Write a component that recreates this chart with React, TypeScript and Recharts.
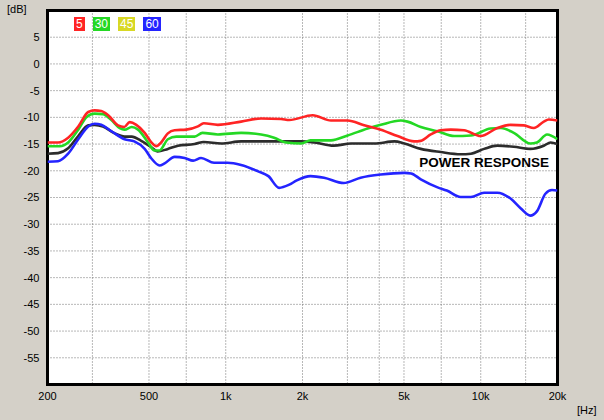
import React from 'react';
import {
  LineChart,
  Line,
  XAxis,
  YAxis,
  CartesianGrid,
  ReferenceArea,
  ReferenceDot,
  Legend,
} from 'recharts';

// angles (legend), the 45° curve is not drawn in the source
const angleLabels = ['5', '30', '45', '60'];
const angleColors = ['#ff2424', '#24d824', '#d8d824', '#2424ff'];

const xTicks = [200, 500, 1000, 2000, 5000, 10000, 20000];
const xGrid = [300, 400, 500, 600, 700, 800, 900, 1000, 2000, 3000, 4000, 5000, 6000, 7000, 8000, 9000, 10000, 15000];
const yTicks = [-55, -50, -45, -40, -35, -30, -25, -20, -15, -10, -5, 0, 5];

const redFreq = [200, 220, 241, 264, 289, 306, 325, 346, 378, 400, 420, 446, 481, 511, 534, 558, 593, 630, 700, 778, 820, 931, 1149, 1376, 1648, 1775, 2193, 2586, 3006, 3490, 4057, 4717, 5479, 5820, 6368, 6972, 7630, 8600, 9993, 11610, 13090, 14760, 16150, 17670, 18480, 20000];
const redDb = [-14.7, -14.7, -13.8, -11.7, -9.0, -8.7, -8.8, -9.6, -11.5, -11.8, -10.9, -11.4, -12.9, -14.7, -15.4, -14.7, -13.0, -12.4, -12.3, -11.7, -11.1, -11.4, -10.8, -10.2, -10.3, -10.5, -9.6, -10.6, -10.6, -11.5, -12.3, -13.5, -14.5, -14.4, -13.2, -12.4, -12.3, -12.4, -13.5, -12.0, -11.4, -11.5, -12.0, -10.8, -10.4, -10.6];

const greenFreq = [200, 224, 241, 264, 284, 306, 330, 356, 384, 401, 428, 453, 496, 525, 550, 593, 640, 755, 810, 931, 1149, 1376, 1548, 1722, 1980, 2150, 2586, 3006, 3600, 4057, 4860, 5160, 5820, 6770, 7870, 9150, 10940, 12000, 13480, 15650, 16600, 18200, 20000];
const greenDb = [-15.4, -15.4, -14.7, -12.3, -10.0, -9.3, -9.4, -10.5, -12.0, -12.3, -11.8, -12.3, -14.7, -16.2, -16.2, -14.1, -13.6, -13.6, -12.9, -13.2, -12.9, -13.2, -13.8, -14.7, -14.9, -14.3, -14.3, -13.4, -12.1, -11.4, -10.6, -10.8, -11.8, -12.6, -13.5, -13.4, -12.1, -12.0, -12.9, -14.9, -14.7, -13.2, -14.1];

const powerFreq = [200, 220, 241, 264, 289, 306, 330, 367, 401, 428, 466, 511, 540, 593, 650, 755, 820, 960, 1149, 1548, 1980, 2230, 2650, 3100, 3830, 4590, 5020, 5820, 6970, 8340, 9150, 10310, 11610, 13480, 15650, 17670, 18800, 20000];
const powerDb = [-16.8, -16.7, -15.8, -13.5, -11.5, -11.4, -11.7, -13.0, -13.6, -13.6, -14.4, -15.6, -16.4, -15.9, -15.3, -15.0, -14.6, -14.9, -14.5, -14.5, -14.5, -14.7, -15.3, -14.9, -14.9, -14.5, -14.9, -15.9, -16.5, -16.9, -16.8, -15.9, -15.3, -15.5, -15.9, -15.3, -14.7, -15.0];

const blueFreq = [200, 220, 241, 264, 289, 306, 325, 356, 401, 438, 481, 511, 550, 576, 630, 690, 745, 800, 900, 1017, 1149, 1339, 1470, 1620, 1775, 1900, 2150, 2430, 2900, 3380, 4057, 5020, 5330, 5820, 6770, 7360, 8340, 9150, 10310, 11610, 13090, 14330, 15650, 16600, 17930, 19030, 20000];
const blueDb = [-18.3, -18.2, -16.8, -14.1, -11.7, -11.2, -11.4, -12.6, -14.1, -14.5, -15.9, -17.7, -19.0, -18.6, -17.4, -17.6, -18.1, -17.6, -18.5, -18.5, -18.9, -20.1, -21.0, -23.2, -22.6, -21.8, -21.0, -21.3, -22.3, -21.3, -20.7, -20.4, -20.5, -21.6, -23.1, -23.7, -24.9, -24.9, -24.1, -24.1, -25.2, -27.0, -28.4, -27.6, -24.3, -23.6, -23.7];

const zip = (fs: number[], vs: number[]) => fs.map((f, i) => ({ f, v: vs[i] }));

const series = [
  { name: 'power', data: zip(powerFreq, powerDb), color: '#2c2c2c' },
  { name: '60', data: zip(blueFreq, blueDb), color: angleColors[3] },
  { name: '30', data: zip(greenFreq, greenDb), color: angleColors[1] },
  { name: '5', data: zip(redFreq, redDb), color: angleColors[0] },
];

const fmtHz = (v: number) => (v >= 1000 ? `${v / 1000}k` : `${v}`);

const font = '"Liberation Sans", Arial, sans-serif';

function AngleLegend() {
  return (
    <div style={{ display: 'flex', gap: 8 }}>
      {angleLabels.map((a, i) => (
        <div
          key={a}
          style={{
            background: angleColors[i],
            color: '#fff',
            fontFamily: font,
            fontSize: 12,
            height: 14,
            lineHeight: '14px',
            padding: '0 2px',
          }}
        >
          {a}
        </div>
      ))}
    </div>
  );
}

export default function App() {
  return (
    <div
      style={{
        position: 'absolute',
        left: 0,
        top: 0,
        width: 604,
        height: 420,
        background: '#d4d0c8',
        fontFamily: font,
      }}
    >
      <div style={{ position: 'absolute', left: 7, top: 3, fontSize: 11, color: '#000' }}>[dB]</div>
      <div style={{ position: 'absolute', left: 577, top: 404, fontSize: 11, color: '#000' }}>[Hz]</div>
      <LineChart
        width={604}
        height={420}
        margin={{ top: 10.5, right: 46.5, left: 7.5, bottom: 1.5 }}
      >
        <CartesianGrid
          fill="#fff"
          stroke="#707070"
          strokeDasharray="1 2"
          verticalValues={xGrid}
          horizontalValues={yTicks}
        />
        <XAxis
          dataKey="f"
          type="number"
          scale="log"
          domain={[200, 20000]}
          ticks={xTicks}
          tickFormatter={fmtHz}
          allowDataOverflow
          axisLine={false}
          tickLine={false}
          height={20}
          tick={{ fill: '#000', fontSize: 11, fontFamily: font }}
        />
        <YAxis
          type="number"
          domain={[-60, 10]}
          ticks={yTicks}
          allowDataOverflow
          axisLine={false}
          tickLine={false}
          width={40}
          tick={{ fill: '#000', fontSize: 11, fontFamily: font }}
        />
        <ReferenceArea
          x1={200}
          x2={20000}
          y1={-60}
          y2={10}
          fill="none"
          stroke="#000"
          strokeWidth={3}
          fillOpacity={0}
        />
        {series.map((s) => (
          <Line
            key={s.name}
            data={s.data}
            dataKey="v"
            type="monotone"
            stroke={s.color}
            strokeWidth={2.6}
            dot={false}
            activeDot={false}
            isAnimationActive={false}
          />
        ))}
        <ReferenceDot
          x={5740}
          y={-18.4}
          r={0}
          fill="none"
          stroke="none"
          label={{
            value: 'POWER RESPONSE',
            position: 'right',
            offset: 0,
            fill: '#000',
            fontSize: 13.5,
            fontWeight: 'bold',
            fontFamily: font,
          }}
        />
        <Legend
          content={() => <AngleLegend />}
          wrapperStyle={{ left: 74, top: 17, width: 'auto', bottom: 'auto' }}
        />
      </LineChart>
    </div>
  );
}
